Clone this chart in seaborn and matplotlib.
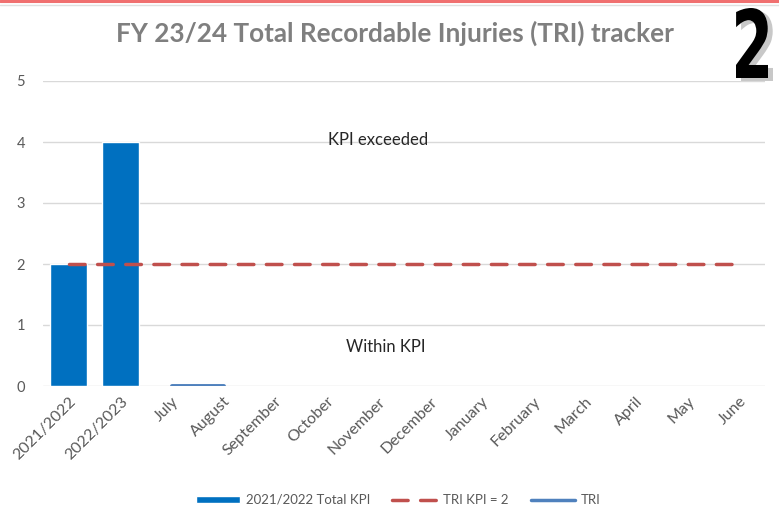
import numpy as np
import pandas as pd
import matplotlib
matplotlib.use("Agg")
import matplotlib.pyplot as plt
import seaborn as sns
from matplotlib.textpath import TextPath
from matplotlib.font_manager import FontProperties
from matplotlib.patches import PathPatch
from matplotlib.lines import Line2D
from matplotlib.patches import Patch
import matplotlib.transforms as mtransforms

# Chart data
categories = ["2021/2022", "2022/2023", "July", "August", "September", "October",
              "November", "December", "January", "February", "March", "April", "May", "June"]
total_kpi = [2, 4, np.nan, np.nan, np.nan, np.nan, np.nan, np.nan, np.nan, np.nan,
             np.nan, np.nan, np.nan, np.nan]
kpi_target = [2] * 14
tri = [np.nan, np.nan, 0, 0, np.nan, np.nan, np.nan, np.nan, np.nan, np.nan,
       np.nan, np.nan, np.nan, np.nan]
y_ticks = [0, 1, 2, 3, 4, 5]

BAR_BLUE = "#0070C0"
KPI_RED = "#C0504D"
TRI_BLUE = "#4F81BD"
GREY_TXT = "#595959"

sns.set_theme(style="white")
plt.rcParams['font.family'] = ['Lato', 'DejaVu Sans']

W, H = 779, 523
fig = plt.figure(figsize=(W / 100, H / 100), dpi=100)
ax = fig.add_axes([43 / W, 1 - 386 / H, (765 - 43) / W, (386 - 81) / H])

df = pd.DataFrame({"category": categories, "kpi": total_kpi})
sns.barplot(data=df, x="category", y="kpi", order=categories, color=BAR_BLUE,
            saturation=1, width=0.72, ax=ax, zorder=2)

pos = np.arange(len(categories))
line_df = pd.DataFrame({"x": pos, "target": kpi_target, "tri": tri})
sns.lineplot(data=line_df, x="x", y="target", color=KPI_RED, lw=2.5,
             dashes=False, ax=ax, zorder=3)
ax.lines[-1].set_dashes((4.5, 3.6))
ax.lines[-1].set_dash_capstyle("round")
ax.plot(line_df["x"], line_df["tri"], color=TRI_BLUE, lw=2.8, zorder=3)

ax.set_xlim(-0.5, len(categories) - 0.5)
ax.set_ylim(0, 5)
ax.set_yticks(y_ticks)
ax.yaxis.grid(True, color="#D9D9D9", lw=1)
ax.set_axisbelow(True)
for s in ax.spines.values():
    s.set_visible(False)
ax.set_xlabel("")
ax.set_ylabel("")
ax.tick_params(axis="both", length=0, colors=GREY_TXT, labelsize=10.5)
ax.tick_params(axis="x", labelsize=11.5, pad=6)
ax.tick_params(axis="y", pad=13)
ax.set_xticks(pos)
ax.set_xticklabels(categories, rotation=45, ha="right", rotation_mode="anchor")

ax.text(6, 4.03, "KPI exceeded", ha="center", va="center", fontsize=12, color="#262626")
ax.text(6.15, 0.64, "Within KPI", ha="center", va="center", fontsize=12, color="#262626")

fig.text(395 / W, 1 - 33 / H, "FY 23/24 Total Recordable Injuries (TRI) tracker",
         ha="center", va="center", fontsize=18.8, fontweight="bold", color="#7F7F7F")

handles = [Patch(facecolor=BAR_BLUE, label="2021/2022 Total KPI"),
           Line2D([], [], color=KPI_RED, lw=2.5, dashes=(4.5, 3.6), dash_capstyle="round",
                  label="TRI KPI = 2"),
           Line2D([], [], color=TRI_BLUE, lw=2.5, label="TRI")]
leg = fig.legend(handles=handles, loc="center", bbox_to_anchor=(398 / W, 1 - 500 / H),
                 ncol=3, frameon=False, fontsize=9.5, handlelength=3.4, handleheight=0.5,
                 columnspacing=1.7, handletextpad=0.4)
for t in leg.get_texts():
    t.set_color(GREY_TXT)

# top border lines
fig.add_artist(Line2D([0, 1], [1 - 1 / H, 1 - 1 / H], color="#F07070", lw=2.2,
                      transform=fig.transFigure))
fig.add_artist(Line2D([0, 1], [1 - 4.5 / H, 1 - 4.5 / H], color="#E0E0E0", lw=1,
                      transform=fig.transFigure))

# big "2" badge with shadow
fp = FontProperties(family="DejaVu Sans", weight="bold", stretch="condensed")
tp = TextPath((0, 0), "2", size=1, prop=fp)
ext = tp.get_extents()
x0, x1, y0, y1 = 736, 768, 78, 8
sx = (x1 - x0) / ext.width
sy = (y0 - y1) / ext.height
for dx, dy, col in [(5, 3, "#C8C8C8"), (0, 0, "black")]:
    tr = (mtransforms.Affine2D().translate(-ext.x0, -ext.y0).scale(sx, sy)
          .translate(x0 + dx, H - y0 - dy).scale(1 / W, 1 / H) + fig.transFigure)
    fig.add_artist(PathPatch(tp, facecolor=col, edgecolor="none", transform=tr))

fig.savefig("out.png", dpi=100)
